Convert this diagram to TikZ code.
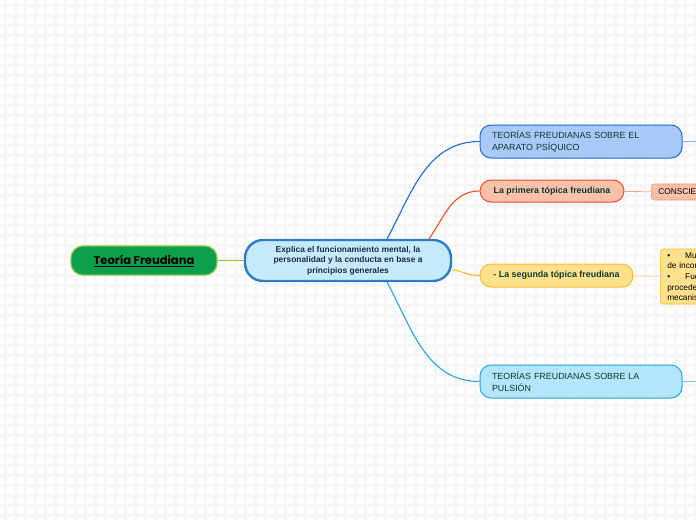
\documentclass[tikz,border=0pt]{standalone}
\usepackage{fontspec}
\setmainfont{Liberation Sans}
\newfontfamily\titlefont{Poppins}
\usepackage{xcolor}
\usetikzlibrary{arrows.meta,positioning,calc}

\definecolor{gridgray}{HTML}{F6F6F6}
\definecolor{titlegreen}{HTML}{0BA04A}
\definecolor{titleedge}{HTML}{8BC34A}
\definecolor{ctrfill}{HTML}{C6EAFB}
\definecolor{ctredge}{HTML}{2B7FC1}
\definecolor{ctrtext}{HTML}{1B2A4A}
\definecolor{apfill}{HTML}{AAC9FB}
\definecolor{apedge}{HTML}{1B6CD6}
\definecolor{ptfill}{HTML}{F9C0AA}
\definecolor{ptedge}{HTML}{F4511E}
\definecolor{stfill}{HTML}{FFE08C}
\definecolor{stedge}{HTML}{F9BE2C}
\definecolor{pufill}{HTML}{B3E5FC}
\definecolor{puedge}{HTML}{27A6E2}
\definecolor{leaftext}{HTML}{0E3B2C}

\begin{document}
\begin{tikzpicture}[
  x=1pt, y=-1pt,
  font=\fontsize{8.5}{11}\selectfont,
  gridline/.style={gridgray, line width=3pt},
  title/.style={draw=titleedge, fill=titlegreen, line width=1.2pt, rounded corners=12pt, minimum width=146pt, minimum height=29pt, inner sep=0pt, text=black},
  central/.style={draw=ctredge, fill=ctrfill, line width=2.4pt, rounded corners=18pt, minimum width=206pt, minimum height=41pt, align=center, inner sep=0pt, text=ctrtext, font=\fontsize{8.4}{10.6}\selectfont\bfseries},
  branch/.style={rounded corners=11pt, line width=1pt, inner sep=0pt, text=leaftext, font=\fontsize{8.9}{12}\selectfont},
  wide/.style={branch, minimum width=202pt, minimum height=33pt, text width=178pt, align=left},
  leaf/.style={rounded corners=3pt, line width=0.6pt, inner sep=0pt, anchor=west, align=left, font=\fontsize{8.3}{10.6}\selectfont},
  link/.style={line width=1.1pt}
]
\useasboundingbox (0,0) rectangle (696,520);
\clip (0,0) rectangle (696,520);
\fill[white] (0,0) rectangle (696,520);
% background grid
\foreach \gx in {5,15,...,695} \draw[gridline] (\gx,0) -- (\gx,520);
\foreach \gy in {5,15,...,515} \draw[gridline] (0,\gy) -- (696,\gy);

\coordinate (rim) at (700,0);

\node[title] (teoria) at (144,260.5) {\titlefont\fontsize{11.5}{13}\selectfont\bfseries\underline{Teoría Freudiana}};
\node[central] (ctr) at (348,260.5) {Explica el funcionamiento mental, la\\personalidad y la conducta en base a\\principios generales};

\node[wide, draw=apedge, fill=apfill] (aparato) at (581,141.5) {TEORÍAS FREUDIANAS SOBRE EL\\APARATO PSÍQUICO};
\node[branch, draw=ptedge, fill=ptfill, minimum width=144pt, minimum height=22pt, font=\fontsize{8.9}{12}\selectfont\bfseries] (primera) at (552,191) {La primera tópica freudiana};
\node[branch, draw=stedge, fill=stfill, minimum width=153pt, minimum height=23pt, font=\fontsize{8.9}{12}\selectfont\bfseries] (segunda) at (556.5,275.5) {- La segunda tópica freudiana};
\node[wide, draw=puedge, fill=pufill] (pulsion) at (581,381.5) {TEORÍAS FREUDIANAS SOBRE LA\\PULSIÓN};

\node[leaf, draw=ptedge!60, fill=ptfill, minimum width=80pt, minimum height=16pt, text width=74pt] (consc) at (651,192) {\hspace*{4pt}CONSCIENTE};
\node[leaf, draw=stedge, fill=stfill, minimum width=80pt, minimum height=55pt, text width=74pt] (muestra) at (660,276.5) {\hspace*{4pt}•\hspace{15pt}Muestra la\\\hspace*{4pt}de inconsciente\\\hspace*{4pt}•\hspace{15pt}Fuerzas\\\hspace*{4pt}procedentes\\\hspace*{4pt}mecanismos};

\draw[link, titleedge] (teoria) -- (ctr);
\draw[link, apedge] (ctr.29.5) to[out=62, in=180] (aparato.west);
\draw[link, ptedge] (ctr.15) to[out=55, in=180] (primera.west);
\draw[link, stedge] (ctr.-5) to[out=-10, in=180] (segunda.west);
\draw[link, puedge] (ctr.-29.5) to[out=-62, in=180] (pulsion.west);

\draw[apedge!50, line width=0.8pt] (aparato.east) -- (aparato.east -| rim);
\draw[ptedge!50, line width=0.8pt] (primera) -- (consc);
\draw[stedge!60, line width=0.8pt] (segunda) -- (muestra);
\draw[puedge!60, line width=0.8pt] (pulsion.east) -- (pulsion.east -| rim);
\end{tikzpicture}
\end{document}
